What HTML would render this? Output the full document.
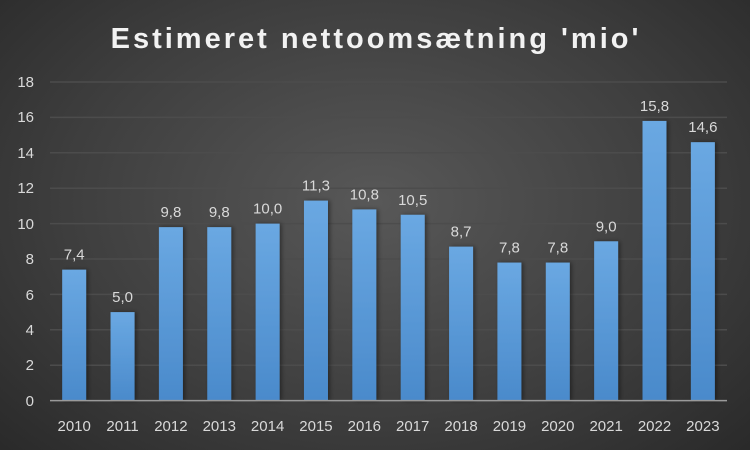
<!DOCTYPE html>
<html><head><meta charset="utf-8"><style>
html,body{margin:0;padding:0;}
body{width:750px;height:450px;overflow:hidden;background:radial-gradient(ellipse 75% 85% at 50% 45%,#585858 0%,#3e3e3e 55%,#262626 100%);font-family:"Liberation Sans",sans-serif;}
</style></head><body>
<svg width="750" height="450" xmlns="http://www.w3.org/2000/svg" style="position:absolute;left:0;top:0">
<defs><linearGradient id="g" x1="0" y1="0" x2="0" y2="1"><stop offset="0" stop-color="#6aa8e2"/><stop offset="1" stop-color="#4a8acb"/></linearGradient>
<filter id="s" x="-30%" y="-10%" width="160%" height="120%"><feDropShadow dx="2" dy="0" stdDeviation="2" flood-color="#000" flood-opacity="0.4"/></filter></defs>
<text x="376" y="48" text-anchor="middle" fill="#f2f2f2" font-size="29" font-weight="bold" letter-spacing="3">Estimeret nettoomsætning 'mio'</text>
<g stroke="#4c4c4c" stroke-width="1.5">
<line x1="50" x2="727" y1="82" y2="82"/><line x1="50" x2="727" y1="117.4" y2="117.4"/><line x1="50" x2="727" y1="152.8" y2="152.8"/><line x1="50" x2="727" y1="188.2" y2="188.2"/><line x1="50" x2="727" y1="223.6" y2="223.6"/><line x1="50" x2="727" y1="259" y2="259"/><line x1="50" x2="727" y1="294.4" y2="294.4"/><line x1="50" x2="727" y1="329.8" y2="329.8"/><line x1="50" x2="727" y1="365.2" y2="365.2"/>
</g>
<g fill="#d9d9d9" font-size="15" text-anchor="end">
<text x="34" y="87">18</text><text x="34" y="122">16</text><text x="34" y="158">14</text><text x="34" y="193">12</text><text x="34" y="229">10</text><text x="34" y="264">8</text><text x="34" y="300">6</text><text x="34" y="335">4</text><text x="34" y="370">2</text><text x="34" y="406">0</text>
</g>
<g id="bars"></g>
<line x1="50" x2="727" y1="400.6" y2="400.6" stroke="#9a9a9a" stroke-width="1.5"/>
</svg>
<script>
var v=[7.4,5.0,9.8,9.8,10.0,11.3,10.8,10.5,8.7,7.8,7.8,9.0,15.8,14.6],y=2010,h='';
for(var i=0;i<14;i++){var c=50+(i+0.5)*48.36,t=400.6-v[i]*17.7;
h+='<rect filter="url(#s)" x="'+(c-12)+'" y="'+t+'" width="24" height="'+(400.6-t)+'" fill="url(#g)"/>';
h+='<text x="'+c+'" y="'+(t-10)+'" text-anchor="middle" fill="#d9d9d9" font-size="15">'+v[i].toFixed(1).replace('.',',')+'</text>';
h+='<text x="'+c+'" y="431" text-anchor="middle" fill="#d9d9d9" font-size="15">'+(y+i)+'</text>';}
document.getElementById('bars').innerHTML=h;
</script>
</body></html>
